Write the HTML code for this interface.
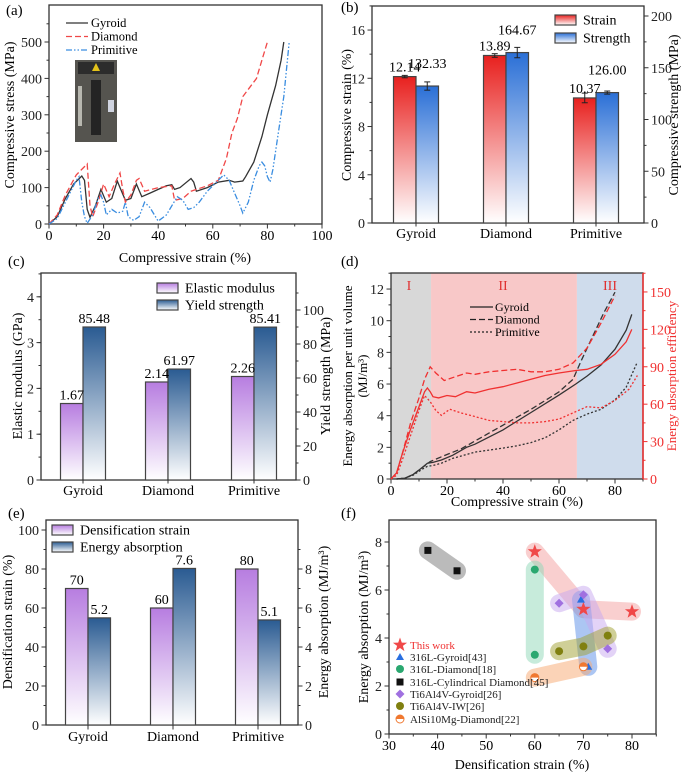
<!DOCTYPE html>
<html><head><meta charset="utf-8">
<style>
html,body{margin:0;padding:0;background:#fff;}
svg{display:block;font-family:"Liberation Serif",serif;}
</style></head>
<body>
<svg id="fig" xmlns="http://www.w3.org/2000/svg" width="685" height="774" viewBox="0 0 685 774">
<defs>
<linearGradient id="gRed" x1="0" y1="0" x2="0" y2="1"><stop offset="0" stop-color="#e8201e"/><stop offset="1" stop-color="#fff"/></linearGradient>
<linearGradient id="gBlue" x1="0" y1="0" x2="0" y2="1"><stop offset="0" stop-color="#2a6fd6"/><stop offset="1" stop-color="#fff"/></linearGradient>
<linearGradient id="gPurp" x1="0" y1="0" x2="0" y2="1"><stop offset="0" stop-color="#b77de0"/><stop offset="1" stop-color="#fff"/></linearGradient>
<linearGradient id="gNavy" x1="0" y1="0" x2="0" y2="1"><stop offset="0" stop-color="#2a5b92"/><stop offset="1" stop-color="#fff"/></linearGradient>
</defs>
</svg>
<script>
// ---------- data ----------
const categories = ["Gyroid","Diamond","Primitive"];
// (a)
const aGyroidX = [0,3,6,9,12,13,14,15,17,19,21,23,25,26,28,30,32,34,37,40,43,45,46,48,52,53,54,58,62,66,68,71,72,75,78,80,83,85,86];
const aGyroidY = [0,20,70,110,132,120,40,18,50,95,60,70,118,100,65,70,110,75,85,95,105,108,95,100,125,115,90,100,115,120,115,118,130,170,240,300,380,450,500];
const aDiamondX = [0,3,6,10,14,15,16,18,20,22,24,26,27,28,30,32,33,35,40,45,46,49,52,58,62,65,67,69,71,73,76,78,80];
const aDiamondY = [0,25,80,135,165,50,20,60,110,75,110,140,95,60,80,120,125,90,100,105,65,70,90,105,120,180,250,290,350,370,400,450,500];
const aPrimX = [0,3,6,10,11,12,13,14,16,18,19,20,21,23,25,27,28,29,31,33,35,37,39,40,43,45,47,49,51,53,55,58,62,64,66,68,70,71,73,75,77,78,79,80,81,82,84,86,88];
const aPrimY = [0,15,60,120,130,60,20,2,25,70,80,60,25,40,30,35,60,20,10,20,60,45,20,8,25,50,75,65,40,45,60,90,120,135,120,85,50,30,60,120,160,170,160,130,115,150,250,350,500];
// (b)
const bStrain = [12.14,13.89,10.37];
const bStrainErr = [0.1,0.15,0.4];
const bStrength = [132.33,164.67,126.00];
const bStrengthErr = [4,5,1.5];
const bStrainLabels = ["12.14","13.89","10.37"];
const bStrengthLabels = ["132.33","164.67","126.00"];
// (c)
const cModulus = [1.67,2.14,2.26];
const cYield = [85.48,61.97,85.41];
const cModulusLabels = ["1.67","2.14","2.26"];
const cYieldLabels = ["85.48","61.97","85.41"];
// (d)
const dGyroidEX = [2,5,8,11,13,15,18,22,27,30,40,50,60,66,70,75,80,84,86];
const dGyroidEY = [0,0.05,0.3,0.7,1.0,1.05,1.2,1.5,2.0,2.2,3.1,4.2,5.3,6.0,6.5,7.2,8.2,9.4,10.4];
const dDiamondEX = [2,5,8,11,14,18,25,30,40,50,60,65,68,72,76,80];
const dDiamondEY = [0,0.05,0.3,0.7,1.1,1.4,1.9,2.4,3.4,4.4,5.5,6.3,7.5,9.0,10.5,11.8];
const dPrimEX = [2,5,8,11,13,15,18,22,30,40,45,50,55,60,65,70,75,80,84,88];
const dPrimEY = [0,0.05,0.25,0.6,0.8,0.85,1.0,1.3,1.7,1.95,2.1,2.3,2.6,3.1,3.7,4.1,4.4,5.0,5.8,7.4];
const dGyroidFX = [0,2,4,7,10,12,13,14,15,17,20,23,27,30,35,40,45,50,55,60,66,70,75,80,84,86];
const dGyroidFY = [0,5,20,40,58,70,73,70,66,65,67,66,70,69,72,74,77,80,83,85,87,88,92,100,110,120];
const dDiamondFX = [0,2,4,7,10,12,14,16,19,23,27,30,35,40,45,50,55,60,65,70,75,80];
const dDiamondFY = [0,5,20,45,65,80,90,85,79,82,85,84,86,87,88,86,86,88,93,105,125,147];
const dPrimFX = [0,2,4,7,10,12,14,16,18,21,25,30,35,40,45,50,55,60,65,70,75,80,85,88];
const dPrimFY = [0,3,15,35,55,67,62,55,51,56,53,50,47,46,45,45,46,48,53,58,57,63,72,83];
const dRegions = [0,14.3,66.4,90];
// (e)
const eDensif = [70,60,80];
const eEnergy = [5.2,7.6,5.1];
const eDensifLabels = ["70","60","80"];
const eEnergyLabels = ["5.2","7.6","5.1"];
// (f)
const fThisX = [60,70,80];            const fThisY = [7.6,5.2,5.1];
const fGyrX = [69.5,71];               const fGyrY = [5.6,2.8];
const fDiaX = [60,60];                 const fDiaY = [6.85,3.3];
const fCylX = [38,44];                 const fCylY = [7.65,6.8];
const fTiGX = [65,70,75];              const fTiGY = [5.45,5.8,3.55];
const fTiIWX = [65,70,75];             const fTiIWY = [3.45,3.65,4.1];
const fAlX = [60,70];                  const fAlY = [2.35,2.8];

// ---------- helpers ----------
const NS="http://www.w3.org/2000/svg";
const svg=document.getElementById('fig');
function el(tag,a,p){const e=document.createElementNS(NS,tag);for(const k in a)e.setAttribute(k,a[k]);(p||svg).appendChild(e);return e;}
function txt(s,x,y,a,p){const t=el('text',Object.assign({x:x,y:y,'font-size':13},a||{}),p);t.textContent=s;return t;}
function group(name){const g=el('g',{});


return g;}
function frame(g,x0,y0,x1,y1,col){el('rect',{x:x0,y:y0,width:x1-x0,height:y1-y0,fill:'none',stroke:'#333','stroke-width':1.3},g);
if(col){el('line',{x1:x1,y1:y0,x2:x1,y2:y1,stroke:col,'stroke-width':1.5},g);}}
function xTicks(g,sx,y,vals,minor,labels){minor.forEach(v=>el('line',{x1:sx(v),x2:sx(v),y1:y,y2:y+2.5,stroke:'#333'},g));
vals.forEach((v,i)=>{el('line',{x1:sx(v),x2:sx(v),y1:y,y2:y+4.5,stroke:'#333'},g);
const t=txt(labels?labels[i]:String(v),sx(v),y+16,{'text-anchor':'middle','font-size':14},g);

});}
function yTicks(g,sy,x,vals,minor,side,col,fs){const d=side==='l'?-1:1;col=col||'#333';
minor.forEach(v=>el('line',{x1:x,x2:x+d*2.5,y1:sy(v),y2:sy(v),stroke:col},g));
vals.forEach(v=>{el('line',{x1:x,x2:x+d*4.5,y1:sy(v),y2:sy(v),stroke:col},g);
const t=txt(String(v),x+d*7,sy(v)+5,{'text-anchor':side==='l'?'end':'start','font-size':fs||14,fill:col==='#333'?'#222':col},g);

});}
function range(a,b,s){const r=[];for(let v=a;v<=b+1e-9;v+=s)r.push(+v.toFixed(4));return r;}
function vtitle(s,x,y,g,a){return txt(s,x,y,Object.assign({'text-anchor':'middle',transform:`rotate(-90 ${x} ${y})`},a||{}),g);}
function path(xs,ys,sx,sy){return xs.map((v,i)=>(i?'L':'M')+sx(v).toFixed(1)+','+sy(ys[i]).toFixed(1)).join('');}

// ---------- (a) ----------
(function(){
const g=group('panel-a-stress-strain');
const sx=v=>49+v*2.73, sy=v=>224-v*0.364;
frame(g,49,5,322,224);
xTicks(g,sx,224,range(0,100,20),range(10,90,20));
yTicks(g,sy,49,range(0,500,100),range(50,550,100),'l');
const ph=el('g',{},g);


el('rect',{x:75,y:60,width:42,height:82,fill:'#55544f'},ph);
el('rect',{x:78,y:62,width:36,height:12,fill:'#2c2c2c'},ph);
el('polygon',{points:'96,63 100,71 92,71',fill:'#e3c21a'},ph);
el('rect',{x:78,y:86,width:4,height:40,fill:'#b8b8b0'},ph);
el('rect',{x:108,y:100,width:6,height:12,fill:'#d0d4e0'},ph);
el('rect',{x:91,y:80,width:10,height:55,fill:'#242424'},ph);
const series=[[aGyroidX,aGyroidY,'#333','none','gyroid'],[aDiamondX,aDiamondY,'#f04848','6,3','diamond'],[aPrimX,aPrimY,'#3a8de0','6,2,1.5,2,1.5,2','primitive']];
series.forEach(s=>{const p=el('path',{d:path(s[0],s[1],sx,sy),fill:'none',stroke:s[2],'stroke-width':1.3,'stroke-dasharray':s[3]},g);

});
const lg=['Gyroid','Diamond','Primitive'];
lg.forEach((n,i)=>{const y=23+i*13.5;el('line',{x1:66,x2:88,y1:y,y2:y,stroke:series[i][2],'stroke-width':1.3,'stroke-dasharray':series[i][3]},g);
const t=txt(n,91,y+4,{'font-size':12.5},g);

});
txt('(a)',6,15,{'font-size':15},g);
vtitle('Compressive stress (MPa)',14,115,g,{'font-size':14});
txt('Compressive strain (%)',185,262,{'text-anchor':'middle','font-size':14},g);
})();

// ---------- generic grouped bars ----------
function bars(g,centers,v1,v2,sy1,sy2,y1,f1,f2,l1,l2,off1,off2,name1,name2,err1,err2){
centers.forEach((c,i)=>{
const t1=sy1(v1[i]),t2=sy2(v2[i]);
const r1=el('rect',{x:c-22.5,y:t1,width:22.5,height:y1-t1,fill:f1,stroke:'#444','stroke-width':1.2},g);


const r2=el('rect',{x:c,y:t2,width:22.5,height:y1-t2,fill:f2,stroke:'#444','stroke-width':1.2},g);


if(err1){[[c-11.25,v1[i],err1[i],sy1],[c+11.25,v2[i],err2[i],sy2]].forEach(e=>{const a=e[3](e[1]+e[2]),b=e[3](e[1]-e[2]);
el('line',{x1:e[0],x2:e[0],y1:a,y2:b,stroke:'#222'},g);el('line',{x1:e[0]-3,x2:e[0]+3,y1:a,y2:a,stroke:'#222'},g);el('line',{x1:e[0]-3,x2:e[0]+3,y1:b,y2:b,stroke:'#222'},g);});}
const a=txt(l1[i],c-11.25,t1-off1,{'text-anchor':'middle','font-size':14},g);


const b=txt(l2[i],c+11.25,t2-off2,{'text-anchor':'middle','font-size':14},g);


});}
function catLabels(g,centers,y){centers.forEach((c,i)=>{const t=txt(categories[i],c,y,{'text-anchor':'middle','font-size':14},g);


el('line',{x1:c,x2:c,y1:y-16,y2:y-11.5,stroke:'#333'},g);});}
function legendBox(g,x,y,fill,label){el('rect',{x:x,y:y,width:21,height:10,fill:fill,stroke:'#444','stroke-width':1.2},g);
const t=txt(label,x+28,y+9.5,{'font-size':14},g);

}

// ---------- (b) ----------
(function(){
const g=group('panel-b-strain-strength');
const syL=v=>223-v*12.06, syR=v=>223-v*1.035;
frame(g,372,6,644,223);
yTicks(g,syL,372,range(0,16,4),range(2,18,4),'l');
yTicks(g,syR,644,range(0,200,50),range(25,200,50),'r');
const centers=[416,506,596];
bars(g,centers,bStrain,bStrength,syL,syR,223,'url(#gRed)','url(#gBlue)',bStrainLabels,bStrengthLabels,5,18,'strain','strength',bStrainErr,bStrengthErr);
catLabels(g,centers,238);
legendBox(g,555,15,'url(#gRed)','Strain');
legendBox(g,555,33,'url(#gBlue)','Strength');
txt('(b)',341,12,{'font-size':15},g);
vtitle('Compressive strain (%)',351,115,g,{'font-size':14});
vtitle('Compressive strength (MPa)',678,115,g,{'font-size':14});
})();

// ---------- (c) ----------
(function(){
const g=group('panel-c-modulus-yield');
const syL=v=>480-v*45.8, syR=v=>480-v*1.7, syBar=v=>480-v*1.79;
frame(g,41,273,296,480);
yTicks(g,syL,41,range(0,4,1),range(0.5,4.5,0.5),'l');
yTicks(g,syR,296,range(0,100,20),range(10,110,20),'r');
const centers=[83,168,254];
bars(g,centers,cModulus,cYield,syL,syBar,480,'url(#gPurp)','url(#gNavy)',cModulusLabels,cYieldLabels,4,4,'elastic-modulus','yield-strength');
catLabels(g,centers,495);
legendBox(g,157,283,'url(#gPurp)','Elastic modulus');
legendBox(g,157,300,'url(#gNavy)','Yield strength');
txt('(c)',8,266,{'font-size':15},g);
vtitle('Elastic modulus (GPa)',22,376,g,{'font-size':14});
vtitle('Yield strength (MPa)',330,376,g,{'font-size':14});
})();

// ---------- (d) ----------
(function(){
const g=group('panel-d-energy-absorption');
const sx=v=>391+v*2.8, syL=v=>479-v*15.83, syR=v=>479-v*1.247;
const rc=['#d8d8d8','#f8c8c8','#cfdcec'];
for(let i=0;i<3;i++){const r=el('rect',{x:sx(dRegions[i]),y:273,width:Math.min(sx(dRegions[i+1]),643)-sx(dRegions[i]),height:206,fill:rc[i]},g);

}
['I','II','III'].forEach((s,i)=>txt(s,[409,503,610][i],290,{'text-anchor':'middle','fill':'#e03030','font-size':14},g));
frame(g,391,273,643,479,'#f03030');
xTicks(g,sx,479,range(0,80,20),range(10,90,20));
yTicks(g,syL,391,range(0,12,2),range(1,13,2),'l');
yTicks(g,syR,643,range(0,150,30),range(15,165,30),'r','#f03030');
const ds=['none','6,3','2,2'];const nm=['gyroid','diamond','primitive'];
[[dGyroidEX,dGyroidEY],[dDiamondEX,dDiamondEY],[dPrimEX,dPrimEY]].forEach((s,i)=>{const p=el('path',{d:path(s[0],s[1],sx,syL),fill:'none',stroke:'#333','stroke-width':1.3,'stroke-dasharray':ds[i]},g);

});
[[dGyroidFX,dGyroidFY],[dDiamondFX,dDiamondFY],[dPrimFX,dPrimFY]].forEach((s,i)=>{const p=el('path',{d:path(s[0],s[1],sx,syR),fill:'none',stroke:'#f03030','stroke-width':1.3,'stroke-dasharray':ds[i]},g);

});
['Gyroid','Diamond','Primitive'].forEach((n,i)=>{const y=307+i*12.5;el('line',{x1:470,x2:493,y1:y,y2:y,stroke:'#222','stroke-width':1.3,'stroke-dasharray':ds[i]},g);
const t=txt(n,495,y+4,{'font-size':12},g);

});
txt('(d)',341,266,{'font-size':15},g);
vtitle('Energy absorption per unit volume',352,376,g,{'font-size':13});
vtitle('(MJ/m³)',367,376,g,{'font-size':13});
vtitle('Energy absorption efficiency',676,376,g,{'font-size':13,fill:'#f03030'});
txt('Compressive strain (%)',517,506,{'text-anchor':'middle','font-size':14},g);
})();

// ---------- (e) ----------
(function(){
const g=group('panel-e-densification-energy');
const syL=v=>725-v*1.95, syR=v=>725-v*19.5, syBar=v=>725-v*20.6;
frame(g,46,520,298,725);
yTicks(g,syL,46,range(0,100,20),range(10,90,20),'l');
yTicks(g,syR,298,range(0,8,2),range(1,9,2),'r');
const centers=[88,173,258];
bars(g,centers,eDensif,eEnergy,syL,syBar,725,'url(#gPurp)','url(#gNavy)',eDensifLabels,eEnergyLabels,4,4,'densification-strain','energy-absorption');
catLabels(g,centers,741);
legendBox(g,52,525,'url(#gPurp)','Densification strain');
legendBox(g,52,542,'url(#gNavy)','Energy absorption');
txt('(e)',8,518,{'font-size':15},g);
vtitle('Densification strain (%)',12,622,g,{'font-size':14});
vtitle('Energy absorption (MJ/m³)',328,622,g,{'font-size':14});
})();

// ---------- (f) ----------
(function(){
const g=group('panel-f-comparison');
const sx=v=>389+(v-30)*4.86, sy=v=>734-v*24;
frame(g,389,520,656,734);
xTicks(g,sx,734,range(30,80,10),range(35,85,10));
yTicks(g,sy,389,range(0,8,2),range(1,7,2),'l');
const S=[[fThisX,fThisY,'#f04848','#f4a0a0','this-work','star'],[fGyrX,fGyrY,'#2a6fe0','#5a8ee8','316l-gyroid','tri'],[fDiaX,fDiaY,'#2aa870','#8fd8b8','316l-diamond','circ'],[fCylX,fCylY,'#111','#777','316l-cylindrical-diamond','sq'],[fTiGX,fTiGY,'#a070e0','#c8a8f0','ti6al4v-gyroid','dia'],[fTiIWX,fTiIWY,'#808010','#a0a030','ti6al4v-iw','circ'],[fAlX,fAlY,'#f07830','#f8a870','alsi10mg-diamond','half']];
S.forEach(s=>{const p=el('path',{d:path(s[0],s[1],sx,sy),fill:'none',stroke:s[3],'stroke-width':18,'stroke-linecap':'round','stroke-linejoin':'round',opacity:0.5},g);

});
function marker(type,x,y,c,parent){
if(type==='star'){let pts=[];for(let k=0;k<10;k++){const r=k%2?3:7.5,a=-Math.PI/2+k*Math.PI/5;pts.push((x+r*Math.cos(a)).toFixed(1)+','+(y+r*Math.sin(a)).toFixed(1));}return el('polygon',{points:pts.join(' '),fill:c},parent);}
if(type==='tri')return el('polygon',{points:`${x},${y-4} ${x+4},${y+3} ${x-4},${y+3}`,fill:c},parent);
if(type==='sq')return el('rect',{x:x-3.5,y:y-3.5,width:7,height:7,fill:c},parent);
if(type==='dia')return el('polygon',{points:`${x},${y-4.5} ${x+4.5},${y} ${x},${y+4.5} ${x-4.5},${y}`,fill:c},parent);
if(type==='half'){const q=el('g',{},parent);el('circle',{cx:x,cy:y,r:4,fill:'#fff',stroke:c,'stroke-width':1},q);el('path',{d:`M${x-4},${y}A4,4 0 0 1 ${x+4},${y}Z`,fill:c},q);return q;}
return el('circle',{cx:x,cy:y,r:4,fill:c},parent);}
S.forEach(s=>{s[0].forEach((v,i)=>{const m=marker(s[5],sx(v),sy(s[1][i]),s[2],g);

});});
const names=['This work','316L-Gyroid[43]','316L-Diamond[18]','316L-Cylindrical Diamond[45]','Ti6Al4V-Gyroid[26]','Ti6Al4V-IW[26]','AlSi10Mg-Diamond[22]'];
const ly=[649,661,673,686,698,710,723];
names.forEach((n,i)=>{marker(S[i][5],400,ly[i]-4,S[i][2],g);
const t=txt(n,410,ly[i],{'font-size':11,fill:i===0?'#f03030':'#222'},g);

});
txt('(f)',341,518,{'font-size':15},g);
vtitle('Energy absorption (MJ/m³)',368,627,g,{'font-size':14});
txt('Densification strain  (%)',522,769,{'text-anchor':'middle','font-size':14},g);
})();
</script>
</body></html>
